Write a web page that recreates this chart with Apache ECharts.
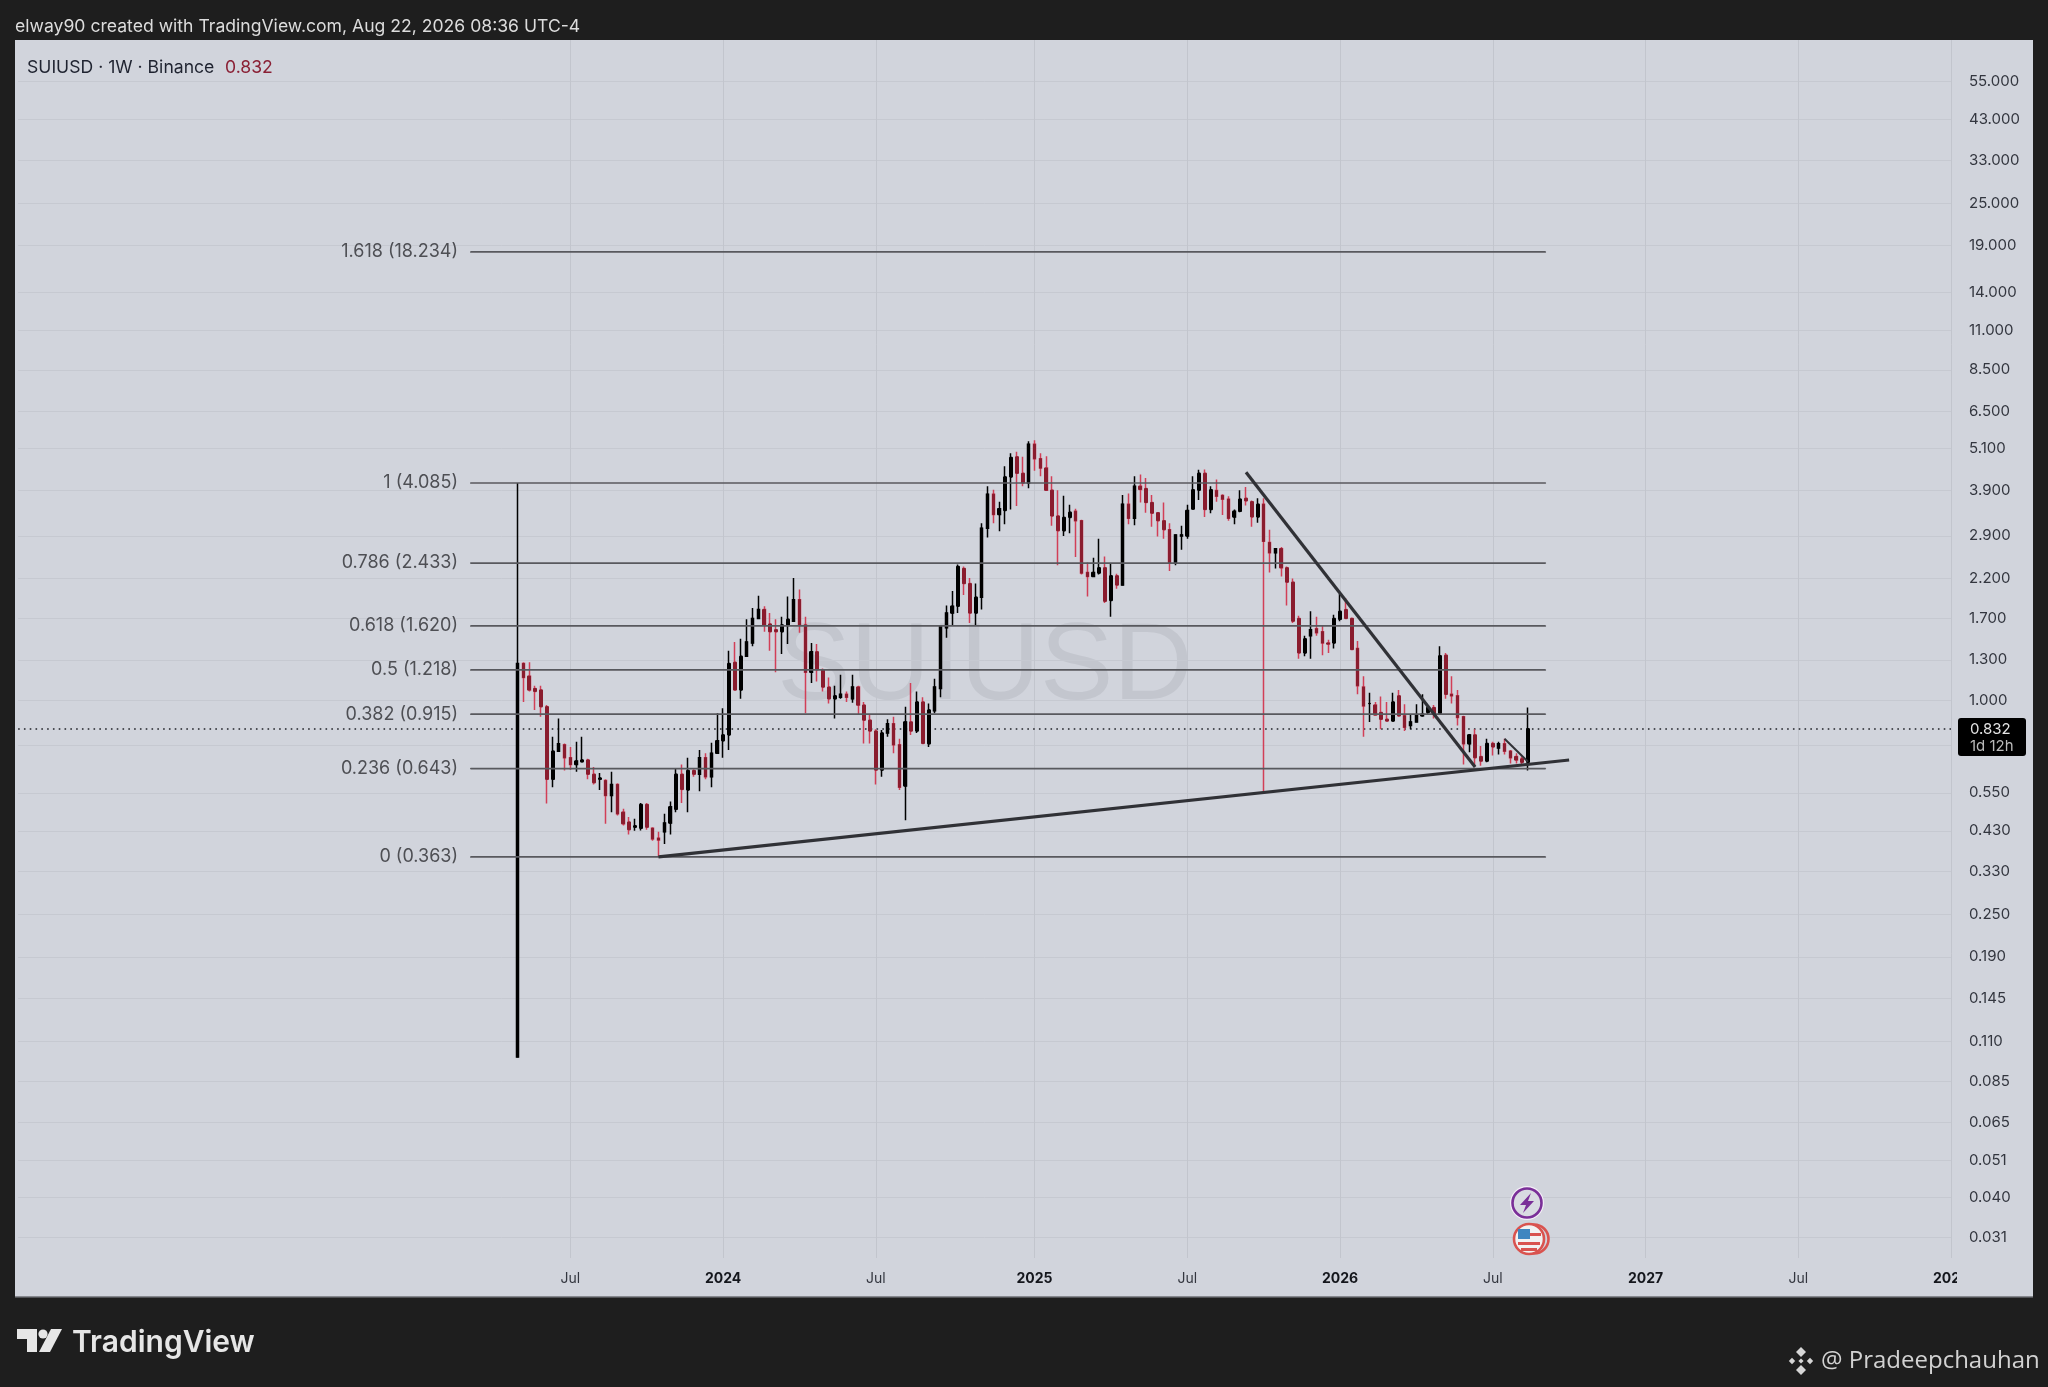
<!DOCTYPE html>
<html><head><meta charset="utf-8">
<style>html,body{margin:0;padding:0;background:#1e1e1e}#c{width:2048px;height:1387px}</style>
<script src="https://cdn.jsdelivr.net/npm/echarts@6/dist/echarts.min.js"></script>
</head><body><div id="c"></div>
<script>
const opens=[.0994,1.27,1.17,1.08,1.07,.96,.60,.72,.75,.69,.66,.672,.68,.62,.60,.595,.54,.58,.485,.455,.44,.437,.51,.437,.41,.427,.452,.494,.62,.56,.635,.62,.69,.61,.71,.77,.80,1.28,1.07,1.33,1.45,1.70,1.80,1.64,1.58,1.56,1.63,1.67,1.92,1.63,1.20,1.37,1.22,1.09,1.01,1.02,1.04,1.01,1.09,.97,.88,.82,.637,.81,.86,.75,.575,.87,.82,.99,.755,.935,1.08,1.60,1.76,1.84,2.35,2.13,1.76,1.95,3.05,3.80,3.33,3.42,4.25,4.84,4.35,4.085,5.25,4.78,4.5,3.9,3.3,3.0,3.27,3.4,3.2,2.29,2.23,2.28,2.36,1.91,2.24,2.11,3.56,3.25,4.0,3.94,3.6,3.37,3.2,3.02,2.43,2.9,2.9,3.45,3.9,4.35,3.44,3.89,3.77,3.68,3.28,3.4,3.7,3.62,3.28,3.56,2.78,2.6,2.67,2.36,2.15,1.7,1.36,1.52,1.59,1.56,1.45,1.45,1.69,1.8,1.7,1.40,1.09,.98,.97,.925,.885,.875,1.03,.905,.85,.87,.905,.925,.955,.92,1.34,1.04,1.03,.90,.755,.80,.695,.675,.757,.735,.755,.72,.695,.685,.67];
const closes=[1.27,1.16,1.07,1.06,.96,.60,.72,.755,.69,.66,.675,.68,.62,.587,.605,.54,.58,.48,.45,.433,.444,.51,.44,.408,.405,.452,.502,.62,.562,.635,.62,.69,.61,.71,.77,.80,1.27,1.07,1.33,1.46,1.70,1.80,1.63,1.56,1.56,1.63,1.69,1.92,1.63,1.20,1.37,1.22,1.09,1.01,1.03,1.04,1.02,1.09,.97,.88,.82,.637,.81,.86,.75,.57,.87,.82,.99,.757,.94,1.09,1.61,1.76,1.84,2.38,2.13,1.76,1.95,3.05,3.80,3.33,3.46,4.25,4.82,4.35,4.085,5.25,4.78,4.5,3.9,3.3,3.0,3.27,3.38,3.2,2.28,2.23,2.29,2.36,1.9,2.24,2.11,3.56,3.25,4.0,3.92,3.6,3.36,3.2,3.02,2.43,2.92,2.92,3.42,3.91,4.35,3.44,3.91,3.75,3.68,3.25,3.4,3.68,3.64,3.28,3.56,2.8,2.6,2.67,2.36,2.15,1.67,1.36,1.49,1.58,1.55,1.45,1.44,1.7,1.78,1.7,1.39,1.10,.965,.98,.91,.885,.875,.99,.905,.84,.87,.905,.915,.955,.915,1.335,1.04,1.03,.895,.755,.80,.69,.675,.757,.74,.755,.72,.69,.68,.67,.832];
const lows=[.0994,.99,1.06,.94,.90,.513,.57,.72,.635,.637,.63,.67,.60,.58,.56,.45,.485,.475,.445,.42,.43,.431,.433,.403,.363,.395,.42,.485,.515,.485,.61,.555,.60,.57,.71,.69,.725,1.07,1.01,1.33,1.42,1.70,1.56,1.38,1.20,1.35,1.44,1.66,1.55,.92,1.12,1.13,1.06,.98,.89,1.01,.99,.985,.91,.757,.757,.58,.61,.79,.71,.56,.46,.80,.81,.755,.74,.92,1.02,1.50,1.63,1.76,1.98,1.65,1.62,1.80,2.87,3.15,2.99,3.13,3.44,3.52,4.0,3.95,4.42,4.27,3.88,3.1,2.4,2.9,2.95,2.53,2.26,1.96,2.23,2.26,1.88,1.72,2.06,2.11,3.13,3.11,3.6,3.37,3.08,2.89,2.85,2.31,2.4,2.65,2.85,3.45,3.66,3.28,3.36,3.62,3.32,3.2,3.13,3.38,3.53,3.08,3.16,.555,2.29,2.35,2.23,1.85,1.65,1.31,1.33,1.31,1.52,1.34,1.36,1.40,1.67,1.70,1.39,1.04,.79,.87,.905,.83,.875,.875,.90,.82,.83,.865,.90,.915,.89,.915,1.01,.98,.85,.66,.715,.65,.655,.67,.70,.705,.705,.665,.665,.66,.635];
const highs=[4.085,1.28,1.28,1.10,1.10,.97,.79,.89,.757,.74,.765,.79,.685,.65,.625,.60,.63,.585,.496,.47,.465,.515,.515,.44,.427,.48,.52,.643,.66,.69,.64,.725,.71,.76,.92,.95,1.38,1.46,1.49,1.69,1.82,1.97,1.84,1.76,1.69,1.72,1.96,2.21,2.05,1.72,1.45,1.44,1.23,1.16,1.10,1.18,1.06,1.18,1.10,.99,.91,.83,.825,.885,.90,.78,.96,1.12,1.06,1.02,.98,1.15,1.63,1.85,2.03,2.41,2.38,2.21,2.13,3.15,4.00,3.91,3.62,4.55,4.95,5.0,4.84,5.35,5.39,4.95,4.86,4.27,3.9,3.76,3.55,3.46,3.22,2.44,2.52,2.85,2.54,2.43,2.27,3.78,3.82,4.27,4.32,4.22,3.78,3.38,3.6,3.15,2.93,3.1,3.55,4.27,4.45,4.46,4.0,4.18,3.8,3.75,3.44,3.9,3.98,3.65,3.7,3.7,3.02,2.67,2.7,2.38,2.2,1.73,1.52,1.78,1.72,1.62,1.48,1.74,1.99,1.94,1.71,1.47,1.17,1.05,.99,1.025,.99,1.05,1.07,.975,.915,.975,1.04,.97,.97,1.42,1.36,1.17,1.07,.905,.805,.83,.745,.78,.765,.765,.78,.725,.71,.695,.955];

const firstCandle='2023-05-01', leadWeeks=85, totalWeeks=330;
const priceTicks=[55,43,33,25,19,14,11,8.5,6.5,5.1,3.9,2.9,2.2,1.7,1.3,1,.75,.55,.43,.33,.25,.19,.145,.11,.085,.065,.051,.04,.031];
const tickDates=['2023-07-03','2024-01-01','2024-07-01','2025-01-06','2025-07-07','2026-01-05','2026-07-06','2027-01-04','2027-07-05','2028-01-03'];
const tickLabels=['Jul','2024','Jul','2025','Jul','2026','Jul','2027','Jul','2028'];
const fibLabels=['1.618 (18.234)','1 (4.085)','0.786 (2.433)','0.618 (1.620)','0.5 (1.218)','0.382 (0.915)','0.236 (0.643)','0 (0.363)'];
const fibPrices=[18.234,4.085,2.433,1.620,1.218,.915,.643,.363];
const lastPrice=.832;
const supportLine=[[24,.363],[179,.68]];
const fallingLine=[[124,4.38],[163,.65]];
const smallLine=[[168,.78],[172,.672]];
const fibFrom=-8, fibTo=175;

const DAY=864e5, t0=Date.parse(firstCandle+'T00:00:00Z');
const weeks=[];
for(let k=0;k<totalWeeks;k++) weeks.push(new Date(t0+(k-leadWeeks)*7*DAY).toISOString().slice(0,10));
const at=i=>weeks[i+leadWeeks];
const EMPTY=['-','-','-','-'];
const candles=weeks.map((w,k)=>{const i=k-leadWeeks;return i>=0&&i<opens.length?[opens[i],closes[i],lows[i],highs[i]]:EMPTY;});
const bodies=weeks.map((w,k)=>{const i=k-leadWeeks;return i>=0&&i<opens.length?[opens[i],closes[i],Math.min(opens[i],closes[i]),Math.max(opens[i],closes[i])]:EMPTY;});

const FONT='Inter, "Liberation Sans", sans-serif';
const lineSeries=(pts,w,color)=>({type:'line',z:7,symbol:'none',silent:true,animation:false,
  data:pts.map(p=>[at(p[0]),p[1]]),lineStyle:{width:w,color}});
const fibSeries=fibPrices.map((p,k)=>({type:'line',z:6,symbol:'circle',symbolSize:1,showSymbol:true,showAllSymbol:true,silent:true,animation:false,
  lineStyle:{width:1.7,color:'#58595e'},itemStyle:{color:'#58595e'},
  data:[{value:[at(fibFrom),p],label:{show:true,position:'left',distance:12,formatter:fibLabels[k],color:'#4e4f54',fontSize:18,fontFamily:FONT,padding:[1,0,0,0]}},
        {value:[at(fibTo),p]}]}));
const txt=(text,x,y,font,fill,align)=>({type:'text',z:10,silent:true,x,y,style:{text,font,fill,textAlign:align||'left',textVerticalAlign:'middle'}});
const poly=(points,fill,z)=>({type:'polygon',z:z||10,silent:true,shape:{points},style:{fill}});
const rect=(x,y,width,height,fill,z,r)=>({type:'rect',z:z===undefined?10:z,silent:true,shape:{x,y,width,height,r:r||0},style:{fill}});
const circ=(cx,cy,r,fill,stroke,lw)=>({type:'circle',z:10,silent:true,shape:{cx,cy,r},style:{fill,stroke,lineWidth:lw}});
const dia=(cx,cy,r,fill)=>poly([[cx,cy-r],[cx+r,cy],[cx,cy+r],[cx-r,cy]],fill);

const graphics=[
  rect(15,40,2018,1257,'#d1d4dc',-10),
  rect(15,1296,2018,1.4,'#86888e',-9),
  {type:'text',z:-5,silent:true,x:985,y:669,style:{text:'SUIUSD',font:'110px "Liberation Sans", sans-serif',fill:'#c3c6ce',textAlign:'center',textVerticalAlign:'middle'}},
  rect(1957,1260,76,36,'#d1d4dc',1),
  txt('elway90 created with TradingView.com, Aug 22, 2026 08:36 UTC-4',15,27,'17.6px '+FONT,'#dcdcdc'),
  txt('SUIUSD · 1W · Binance',27,67.5,'17.6px '+FONT,'#1f2330'),
  txt('0.832',225,67.5,'17.6px '+FONT,'#8a2035'),
  rect(1958,718,68,38,'#000000',10,3),
  txt('0.832',1970,729,'15px '+FONT,'#e4e4e4'),
  txt('1d 12h',1970,746,'15px '+FONT,'#b9b9b9'),
  circ(1527,1203,17,'#f4eef8',null,0),
  circ(1527,1203,14.5,'#d9dbe2','#7a2f98',2.6),
  poly([[1531,1193],[1520,1205],[1526,1205],[1523,1213],[1534,1201],[1528,1201]],'#7a2f98'),
  circ(1534,1239,14.5,'#d1d4dc','#d9534f',2.6),
  circ(1529,1239,15,'#f2f2f2','#d9534f',2.6),
  rect(1518,1229,12,10,'#3f86c0'),
  rect(1530,1233,11,3,'#d9534f'),
  rect(1518,1242,22,3,'#d9534f'),
  rect(1521,1248,16,3,'#d9534f'),
  poly([[17,1329],[37,1329],[37,1352],[27,1352],[27,1339],[17,1339]],'#e6e6e6'),
  circ(43,1334,4.6,'#e6e6e6',null,0),
  poly([[51,1329],[62,1329],[50,1352],[39,1352]],'#e6e6e6'),
  txt('TradingView',72,1343,'600 30px '+FONT,'#e6e6e6'),
  dia(1801,1352,5,'#d6d6d6'),dia(1801,1370,5,'#d6d6d6'),dia(1792,1361,3.2,'#d6d6d6'),dia(1810,1361,3.2,'#d6d6d6'),dia(1801,1361,2.6,'#d6d6d6'),
  txt('@ Pradeepchauhan',1821,1361,'24px "Open Sans", sans-serif','#d2d2d2')
];

const chart=echarts.init(document.getElementById('c'),null,{renderer:'canvas',width:2048,height:1387});
chart.setOption({
  animation:false,
  backgroundColor:'#1e1e1e',
  textStyle:{fontFamily:FONT},
  grid:{left:18.125,width:1932.875,top:40,height:1218,containLabel:false},
  xAxis:{type:'category',data:weeks,boundaryGap:false,
    axisLine:{show:false},axisTick:{show:false},
    axisLabel:{interval:(i,v)=>tickDates.includes(v),hideOverlap:false,margin:14,
      formatter:v=>{const l=tickLabels[tickDates.indexOf(v)];return l==='Jul'?'{m|Jul}':'{y|'+l+'}';},
      rich:{m:{fontSize:14,color:'#33363f',fontFamily:FONT},y:{fontSize:14,fontWeight:'bold',color:'#14161c',fontFamily:FONT}}},
    splitLine:{show:true,interval:(i,v)=>tickDates.includes(v),lineStyle:{color:'#c2c5cd',width:1}}},
  yAxis:{type:'log',logBase:10,position:'right',min:.02706,max:71.9,
    axisLine:{show:false},
    axisTick:{show:false,customValues:priceTicks},
    axisLabel:{customValues:priceTicks,margin:18,align:'left',fontSize:15,color:'#33363f',fontFamily:FONT,padding:[2,0,0,0],formatter:v=>Number(v).toFixed(3)},
    splitLine:{show:true,lineStyle:{color:'#c6c9d1',width:1}}},
  graphic:graphics,
  series:[
    {type:'candlestick',z:5,data:candles,barWidth:2,silent:true,animation:false,
      itemStyle:{color:'#000000',color0:'#d23f57',borderColor:'#000000',borderColor0:'#d23f57',borderWidth:1.5},
      markLine:{silent:true,symbol:'none',animation:false,label:{show:false},
        lineStyle:{type:[1.6,4.2],width:1.6,color:'#202228'},data:[{yAxis:lastPrice}]}},
    {type:'candlestick',z:5,data:bodies,barWidth:3.2,silent:true,animation:false,
      itemStyle:{color:'#000000',color0:'#8a1c2e',borderColor:'#000000',borderColor0:'#8a1c2e',borderWidth:1}},
    ...fibSeries,
    lineSeries(supportLine,3.2,'#303136'),
    lineSeries(fallingLine,3.2,'#303136'),
    lineSeries(smallLine,2,'#303136')
  ]
});
</script></body></html>
